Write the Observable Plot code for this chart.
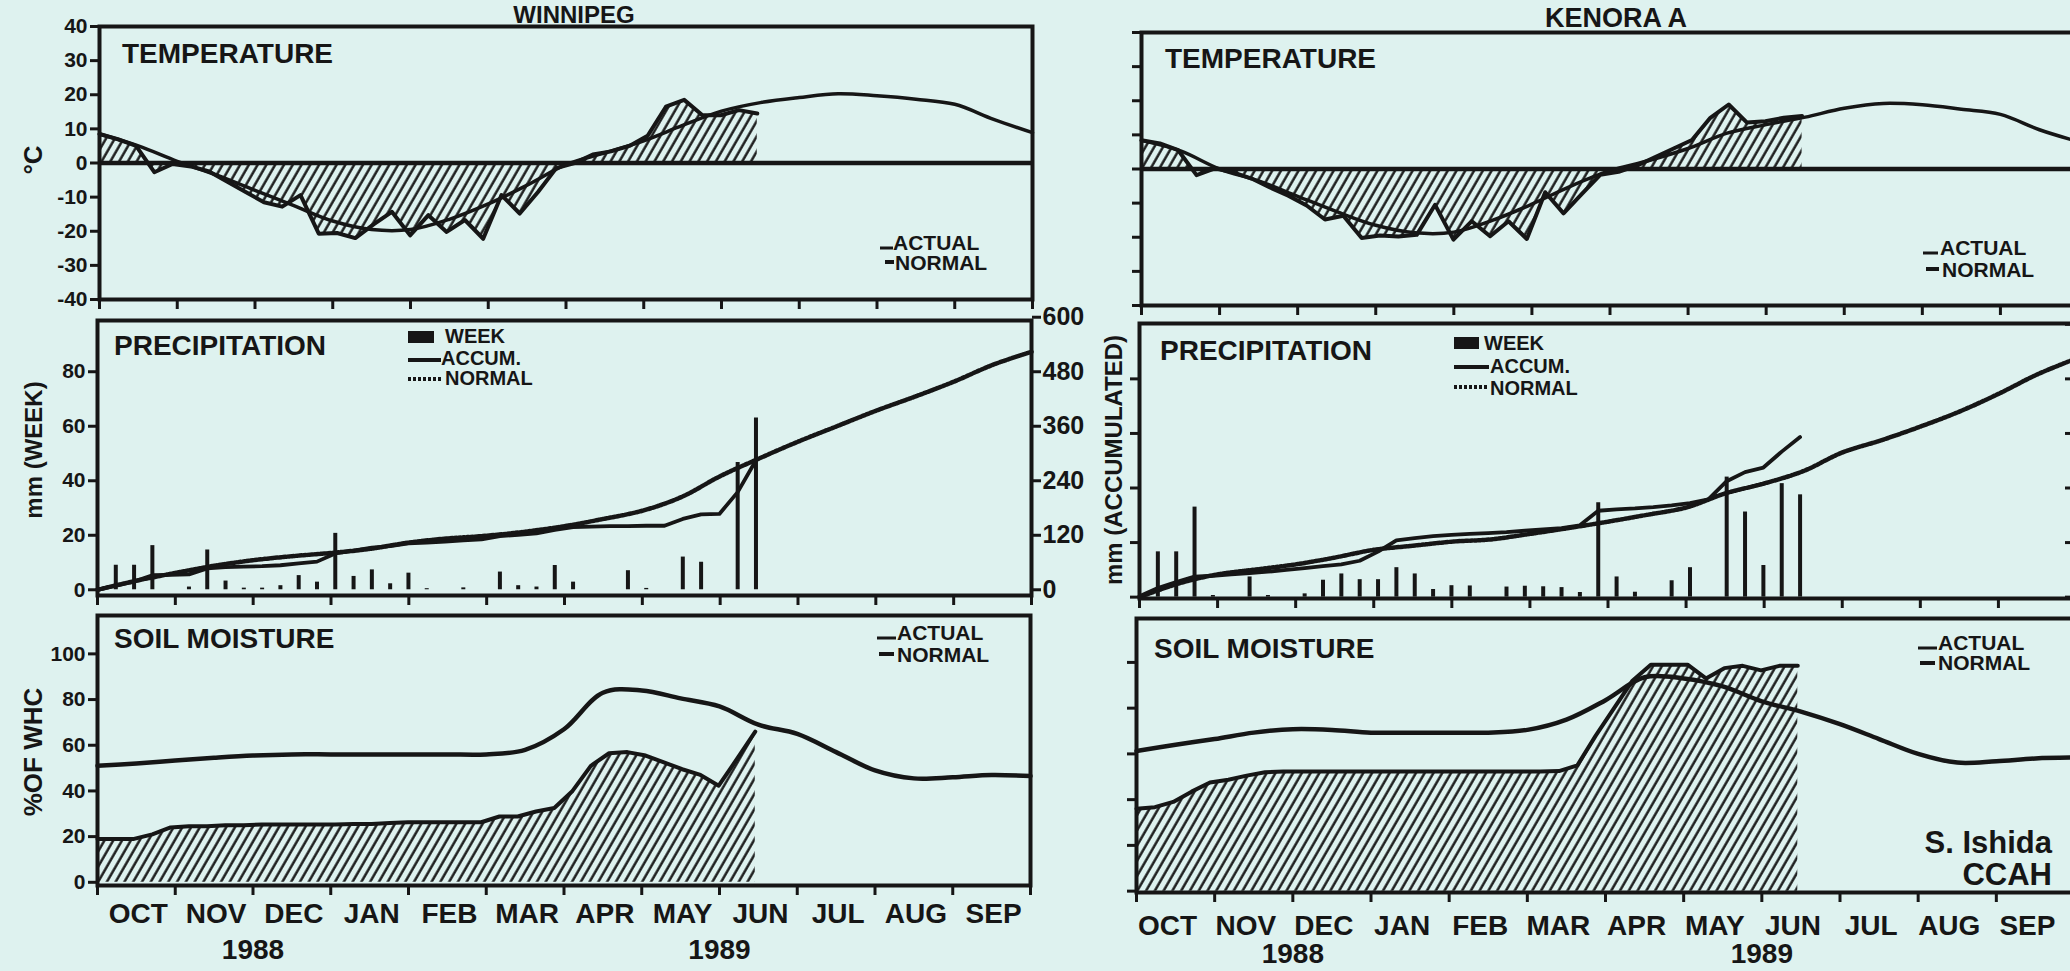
<!DOCTYPE html>
<html><head><meta charset="utf-8">
<script src="https://cdn.jsdelivr.net/npm/d3@7"></script>
<script src="https://cdn.jsdelivr.net/npm/@observablehq/plot@0.6"></script>
<style>
html,body{margin:0;padding:0;background:#def2ef;overflow:hidden;}
#chart{position:relative;width:2070px;height:971px;overflow:hidden;background:#def2ef;}
#chart svg{position:absolute;left:0;top:0;}
</style></head>
<body><div id="chart"></div>
<script>
// ---------- labels / ticks ----------
const MONTHS = ["OCT","NOV","DEC","JAN","FEB","MAR","APR","MAY","JUN","JUL","AUG","SEP"];
const YEARS = ["1988","1989"];
const TEMP_TICKS = [-40,-30,-20,-10,0,10,20,30,40];
const WEEK_TICKS = [0,20,40,60,80];
const ACCUM_TICKS = [0,120,240,360,480,600];
const SOIL_TICKS = [0,20,40,60,80,100];

// ---------- WINNIPEG (weekly from 1 Oct 1988; normals every half month) ----------
const wpgTempActual = [8.5,7,5,-2.7,-0.3,-1,-2.5,-5.5,-8.5,-11.5,-12.8,-9.4,-20.7,-20.5,-22,-18,-14.3,-21.2,-15.3,-20.2,-16.7,-22.2,-9.4,-14.8,-8.5,-1.5,0,2.5,3.4,5,8,16.5,18.5,14,14,15.5,14.5];
const wpgTempNormal = [8.5,5,0.5,-3.5,-8,-12.5,-17,-19.5,-19.5,-16.5,-12,-6.5,-0.5,3,6.5,11,15.2,17.7,19.2,20.3,19.7,18.7,17.2,12.8,8.9];
const wpgPrecipWeek = [0,9,9,16.2,0,1,14.6,3.2,0.6,0.6,1.5,5.2,2.8,20.7,4.9,7.3,2.2,6.1,0.4,0,0.7,0,6.5,1.5,1,8.9,2.8,0,0,7,0.5,0,12,10.1,0,46.7,63];
const wpgPrecipAccum = [0,9,18,32,33,34,47,50,51,52,54,58,62,80,86,93,96,102,104,106,109,111,118,121,124,132,138,139,140,140,141,141,156,166,167,215,285];
const wpgPrecipNormal = [0,20,37,53,65,74,81,90,104,113,119,128,140,156,174,204,250,289,326,360,394,425,458,495,524];
const wpgSoilActual = [19,19,19,21,24,24.5,24.5,25,25,25.3,25.3,25.3,25.3,25.3,25.5,25.5,26,26.3,26.3,26.3,26.3,26.3,28.8,28.8,31,32.5,40,51,56.5,57,55.5,52.5,49.5,47,42.3,54,66];
const wpgSoilNormal = [51,52,53.3,54.5,55.5,56,56,56,56,56,56,58,67,83,84,80.5,77,69,65,57,49,45.5,46,47,46.5];

// ---------- KENORA A ----------
const kenTempActual = [8.4,7.5,5.5,-1.8,0.2,-1,-2.8,-5.4,-7.8,-10.7,-14.8,-13.7,-20.2,-19.5,-19.8,-19.3,-10.5,-20.7,-15.3,-19.7,-15.3,-20.5,-6.8,-13,-7.3,-1.7,-0.8,1,3.5,6,8.5,15,18.9,13.6,14,15,15.5];
const kenTempNormal = [8.4,5.3,0,-3.5,-8,-12.5,-16.5,-18.7,-18.5,-15,-10.3,-5,-0.5,2.5,6,10.5,13,15.2,17.8,19.2,18.8,17.5,16,11.5,8];
const kenPrecipWeek = [0,16.6,16.6,33,0.6,0,7.4,0.6,0,1.2,6.2,8.5,6.4,6.4,10.8,8.5,2.8,4.2,4.1,0,3.7,4,3.8,3.5,1.7,34.6,7.4,1.8,0,6,10.8,0,44,31.2,11.6,41.6,37.5];
const kenPrecipAccum = [2,20,33,45,47,50,53,56,60,64,68,72,80,100,125,130,134,137,139,141,143,146,149,152,158,190,193,195,198,202,207,215,255,275,285,320,352];
const kenPrecipNormal = [0,30,50,61,72,87,104,113,122,127,139,152,166,181,197,228,250,277,318,345,375,408,447,490,525];
const kenSoilActual = [36,36.7,39,43.5,47.5,48.7,50.5,52,52.3,52.3,52.3,52.3,52.3,52.3,52.3,52.3,52.3,52.3,52.3,52.3,52.3,52.3,52.3,52.5,55,68,80,92,99,99,99,93,97.5,98.5,96.5,98.5,98.5];
const kenSoilNormal = [61.3,64,66.5,69.3,70.8,70.5,69.3,69.3,69.3,69.3,70.5,75,83.5,93.5,93,89.5,83,78.5,73,66.5,60,56.2,56.8,58,58.4];

// ---------- layout ----------
const INK = "#161616";
const FONT = "'Liberation Sans', Arial, Helvetica, sans-serif";
const W = 2090, H = 971;
const WEEK_STEP = 0.235;   // months per week on the chart's axis
const HALF = 0.5;
const weekRows = a => a.map((v, i) => ({m: i * WEEK_STEP, v}));
const halfRows = a => a.map((v, i) => ({m: i * HALF, v}));
const root = document.getElementById("chart");

// hatch pattern
const defsSvg = d3.select(root).append("svg").attr("width", 1).attr("height", 1);
const pat = defsSvg.append("defs").append("pattern").attr("id", "hatch")
  .attr("patternUnits", "userSpaceOnUse").attr("width", 7.6).attr("height", 7.6)
  .attr("patternTransform", "rotate(30)");
pat.append("line").attr("x1", 1.5).attr("y1", -1).attr("x2", 1.5).attr("y2", 9)
  .attr("stroke", INK).attr("stroke-width", 2.4);

const stations = [
  {
    temp: {L: 99, R: 1032, T: 26, B: 299, domain: [-40, 40]},
    precip: {L: 97, R: 1031, T: 320, B: 595, domain: [-2.1, 98.8]},
    soil: {L: 97, R: 1030, T: 615, B: 885, domain: [-1.4, 116.8]},
    labels: true, monthDx: 2, monthPad: 18, yearDy: 73,
    tempActual: wpgTempActual, tempNormal: wpgTempNormal,
    precipWeek: wpgPrecipWeek, precipAccum: wpgPrecipAccum, precipNormal: wpgPrecipNormal,
    soilActual: wpgSoilActual, soilNormal: wpgSoilNormal
  },
  {
    temp: {L: 1141, R: 2078, T: 32, B: 305, domain: [-40, 40]},
    precip: {L: 1139, R: 2076, T: 323, B: 598, domain: [-0.5, 100.3]},
    soil: {L: 1136, R: 2074, T: 618, B: 892, domain: [-0.6, 119.2]},
    labels: false, monthDx: -8, monthPad: 23, yearDy: 70,
    tempActual: kenTempActual, tempNormal: kenTempNormal,
    precipWeek: kenPrecipWeek, precipAccum: kenPrecipAccum, precipNormal: kenPrecipNormal,
    soilActual: kenSoilActual, soilNormal: kenSoilNormal
  }
];

function base(box) {
  return {
    width: W, height: H,
    marginLeft: box.L, marginRight: W - box.R, marginTop: box.T, marginBottom: H - box.B,
    x: {domain: [0, 12], label: null},
    y: {domain: box.domain, label: null},
    style: {background: "transparent", maxWidth: "none", overflow: "visible",
            fontFamily: FONT, fontWeight: "bold", color: INK}
  };
}
const monthTicks = () => Plot.axisX(d3.range(13), {anchor: "bottom", tickSize: 10, strokeWidth: 3, tickFormat: () => "", label: null});
const leftAxis = (ticks, labels) => Plot.axisY(ticks, {anchor: "left", tickSize: 9, tickPadding: 3, strokeWidth: 3,
  fontSize: 21, tickFormat: labels ? (d => String(d)) : (() => ""), label: null});
const frame = () => Plot.frame({stroke: INK, strokeWidth: 4});

for (const s of stations) {
  // temperature
  root.appendChild(Plot.plot({
    ...base(s.temp),
    marks: [
      Plot.areaY(weekRows(s.tempActual), {x: "m", y: "v", fill: "url(#hatch)"}),
      Plot.ruleY([0], {stroke: INK, strokeWidth: 4.5}),
      Plot.line(halfRows(s.tempNormal), {x: "m", y: "v", stroke: INK, strokeWidth: 3.5, curve: "catmull-rom"}),
      Plot.line(weekRows(s.tempActual), {x: "m", y: "v", stroke: INK, strokeWidth: 4}),
      frame(), leftAxis(TEMP_TICKS, s.labels), monthTicks()
    ]
  }));
  // precipitation (accumulated plotted on the week scale, 1 : 6)
  root.appendChild(Plot.plot({
    ...base(s.precip),
    marks: [
      Plot.ruleX(weekRows(s.precipWeek).filter(d => d.v > 0), {x: "m", y1: 0, y2: "v", stroke: INK, strokeWidth: 4}),
      Plot.line(halfRows(s.precipNormal), {x: "m", y: d => d.v / 6, stroke: INK, strokeWidth: 4.5, strokeDasharray: "2.5 1.6", curve: "catmull-rom"}),
      Plot.line(weekRows(s.precipAccum), {x: "m", y: d => d.v / 6, stroke: INK, strokeWidth: 3.8}),
      frame(), leftAxis(WEEK_TICKS, s.labels), monthTicks(),
      s.labels
        ? Plot.axisY(ACCUM_TICKS.map(v => v / 6), {anchor: "right", tickSize: 9, tickPadding: 2, strokeWidth: 3, fontSize: 25,
            tickFormat: d => String(Math.round(d * 6)), label: null})
        : Plot.axisY(ACCUM_TICKS.map(v => v / 6), {anchor: "right", tickSize: 12, dx: -12, strokeWidth: 3, tickFormat: () => "", label: null})
    ]
  }));
  // soil moisture
  root.appendChild(Plot.plot({
    ...base(s.soil),
    marks: [
      Plot.areaY(weekRows(s.soilActual), {x: "m", y: "v", fill: "url(#hatch)"}),
      Plot.line(halfRows(s.soilNormal), {x: "m", y: "v", stroke: INK, strokeWidth: 4.5, curve: "catmull-rom"}),
      Plot.line(weekRows(s.soilActual), {x: "m", y: "v", stroke: INK, strokeWidth: 4}),
      frame(), leftAxis(SOIL_TICKS, s.labels), monthTicks(),
      Plot.axisX(d3.range(12).map(i => i + 0.5), {anchor: "bottom", tickSize: 0, tickPadding: s.monthPad, dx: s.monthDx,
        fontSize: 28, tickFormat: d => MONTHS[Math.floor(d)], label: null}),
      Plot.text(YEARS, {x: (d, i) => 2 + 6 * i, frameAnchor: "bottom", dy: s.yearDy, lineAnchor: "bottom", fontSize: 28, text: d => d})
    ]
  }));
}

// ---------- annotations ----------
const ann = d3.select(root).append("svg").attr("width", 2070).attr("height", 971)
  .style("font-family", FONT).style("font-weight", "bold").attr("fill", INK);
function label(x, y, t, size, anchor = "start", rot = 0) {
  const el = ann.append("text").attr("x", x).attr("y", y).attr("font-size", size).attr("text-anchor", anchor).text(t);
  if (rot) el.attr("transform", `rotate(${rot},${x},${y})`).attr("dominant-baseline", "central");
  return el;
}
function seg(x1, x2, y, w, dash) {
  const l = ann.append("line").attr("x1", x1).attr("x2", x2).attr("y1", y).attr("y2", y)
    .attr("stroke", INK).attr("stroke-width", w);
  if (dash) l.attr("stroke-dasharray", dash);
}
label(574, 23, "WINNIPEG", 24, "middle");
label(1616, 27, "KENORA A", 27, "middle");
label(122, 63, "TEMPERATURE", 28); label(1165, 68, "TEMPERATURE", 28);
label(114, 355, "PRECIPITATION", 28); label(1160, 360, "PRECIPITATION", 28);
label(114, 648, "SOIL MOISTURE", 28); label(1154, 658, "SOIL MOISTURE", 28);
label(33, 160, "°C", 26, "middle", -90);
label(33, 450, "mm (WEEK)", 24, "middle", -90);
label(33, 752, "%OF WHC", 26, "middle", -90);
label(1113, 460, "mm (ACCUMULATED)", 24, "middle", -90);
// temperature legends
seg(880, 893, 248, 3); label(893, 250, "ACTUAL", 21);
seg(885, 894, 262, 4); label(895, 270, "NORMAL", 21);
seg(1923, 1938, 253, 3); label(1940, 255, "ACTUAL", 21);
seg(1926, 1939, 269, 4); label(1942, 277, "NORMAL", 21);
// precipitation legends
ann.append("rect").attr("x", 408).attr("y", 331).attr("width", 26).attr("height", 12);
label(445, 343, "WEEK", 20);
seg(408, 441, 360, 4); label(441, 365, "ACCUM.", 20);
seg(408, 443, 379, 4, "3 2"); label(445, 385, "NORMAL", 20);
ann.append("rect").attr("x", 1454).attr("y", 337).attr("width", 25).attr("height", 12);
label(1484, 350, "WEEK", 20);
seg(1454, 1489, 367, 4); label(1490, 373, "ACCUM.", 20);
seg(1454, 1489, 387, 4, "3 2"); label(1490, 395, "NORMAL", 20);
// soil legends
seg(877, 896, 638, 3); label(897, 640, "ACTUAL", 21);
seg(879, 894, 654, 4); label(897, 662, "NORMAL", 21);
seg(1918, 1937, 648, 3); label(1938, 650, "ACTUAL", 21);
seg(1920, 1935, 663, 4); label(1938, 670, "NORMAL", 21);
// credit
label(2052, 853, "S. Ishida", 31, "end");
label(2052, 885, "CCAH", 31, "end");
</script></body></html>
